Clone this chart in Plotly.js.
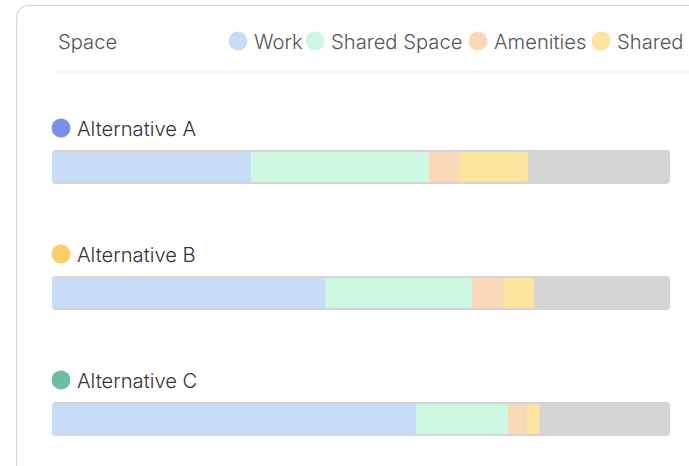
<!DOCTYPE html>
<html>
<head>
<meta charset="utf-8">
<script src="https://cdn.plot.ly/plotly-3.0.1.min.js"></script>
<style>
  html, body { margin: 0; padding: 0; background: #ffffff; }
  #chart { width: 689px; height: 466px; }
</style>
</head>
<body>
<div id="chart"></div>
<script>
// ---- data ----
const categories = ['Alternative A', 'Alternative B', 'Alternative C'];
const segmentNames = ['Work', 'Shared Space', 'Amenities', 'Shared'];
const work = [32.2, 44.2, 58.9];
const sharedSpace = [28.8, 23.8, 14.9];
const amenities = [5.0, 5.0, 3.0];
const shared = [11.0, 5.0, 2.1];
const capacity = [100, 100, 100];
const chartTitle = 'Space';

// ---- styles ----
const segmentColors = ['#c9dcf7', '#cff8e2', '#f9d9b7', '#fde49f'];
const altColors = ['#7b8fe4', '#f9cf6c', '#6bbea2'];
const trackColor = '#d5d5d5';
const W = 689, H = 466;
const px = x => x / W;
const py = y => 1 - y / H;
const FONT = 'Inter, "Noto Sans", sans-serif';
const FS = 20.2;

const series = [work, sharedSpace, amenities, shared];

const traces = [];
traces.push({
  type: 'bar', orientation: 'h', name: 'Total',
  y: categories, x: capacity, base: capacity.map(() => 0),
  width: 0.27, marker: { color: trackColor, cornerradius: 4 },
  showlegend: false, hoverinfo: 'skip'
});
const cum = categories.map(() => 0);
series.forEach((vals, i) => {
  const base = cum.slice();
  vals.forEach((v, j) => { cum[j] += v; });
  traces.push({
    type: 'bar', orientation: 'h', name: segmentNames[i],
    y: categories, x: vals, base: base,
    width: 0.235, marker: { color: segmentColors[i], line: { width: 0 } },
    showlegend: false
  });
});

const shapes = [];
const annotations = [];

// card border
const L = 16.5, T = 5.5, R = 720, B = 500, rad = 14;
shapes.push({
  type: 'path', xref: 'paper', yref: 'paper', layer: 'below',
  path: `M ${px(L)} ${py(B)} L ${px(L)} ${py(T + rad)} Q ${px(L)} ${py(T)} ${px(L + rad)} ${py(T)} L ${px(R)} ${py(T)}`,
  line: { color: '#d6d6d6', width: 1.2 }
});
// separator
shapes.push({
  type: 'line', xref: 'paper', yref: 'paper',
  x0: px(57), x1: px(689), y0: py(72), y1: py(72),
  line: { color: '#eeeeee', width: 1.2 }
});

annotations.push({
  text: chartTitle, xref: 'paper', yref: 'paper', x: px(56), y: py(41),
  xanchor: 'left', yanchor: 'middle', showarrow: false,
  font: { family: FONT, size: FS, weight: 300, color: '#555555' }
});

// legend (manual)
const legendCircleX = [238, 315, 478, 601];
segmentNames.forEach((n, i) => {
  const cx = legendCircleX[i], cy = 41, r = 9.5;
  shapes.push({
    type: 'circle', xref: 'paper', yref: 'paper',
    x0: px(cx - r), x1: px(cx + r), y0: py(cy + r), y1: py(cy - r),
    fillcolor: segmentColors[i], line: { width: 0 }
  });
  annotations.push({
    text: n, xref: 'paper', yref: 'paper', x: px(cx + 14), y: py(cy),
    xanchor: 'left', yanchor: 'middle', showarrow: false,
    font: { family: FONT, size: FS, weight: 300, color: '#555555' }
  });
});

// alternative labels
const barCenters = [167, 293, 419];
categories.forEach((c, i) => {
  const cy = barCenters[i] - 39, cx = 61, r = 9.5;
  shapes.push({
    type: 'circle', xref: 'paper', yref: 'paper',
    x0: px(cx - r), x1: px(cx + r), y0: py(cy + r), y1: py(cy - r),
    fillcolor: altColors[i], line: { width: 0 }
  });
  annotations.push({
    text: c, xref: 'paper', yref: 'paper', x: px(75), y: py(cy),
    xanchor: 'left', yanchor: 'middle', showarrow: false,
    font: { family: FONT, size: FS, weight: 300, color: '#333333' }
  });
});

const layout = {
  width: W, height: H,
  margin: { l: 0, r: 0, t: 0, b: 0 },
  paper_bgcolor: '#ffffff', plot_bgcolor: 'rgba(0,0,0,0)',
  barmode: 'overlay',
  showlegend: false,
  xaxis: {
    domain: [px(52), px(670)], range: [0, 100],
    showgrid: false, zeroline: false, showticklabels: false, showline: false, fixedrange: true
  },
  yaxis: {
    type: 'category', categoryorder: 'array', categoryarray: categories,
    range: [(H - 167) / 126, -167 / 126],
    showgrid: false, zeroline: false, showticklabels: false, showline: false, fixedrange: true
  },
  shapes: shapes,
  annotations: annotations
};

Plotly.newPlot('chart', traces, layout, { displayModeBar: false, staticPlot: true });
</script>
</body>
</html>
